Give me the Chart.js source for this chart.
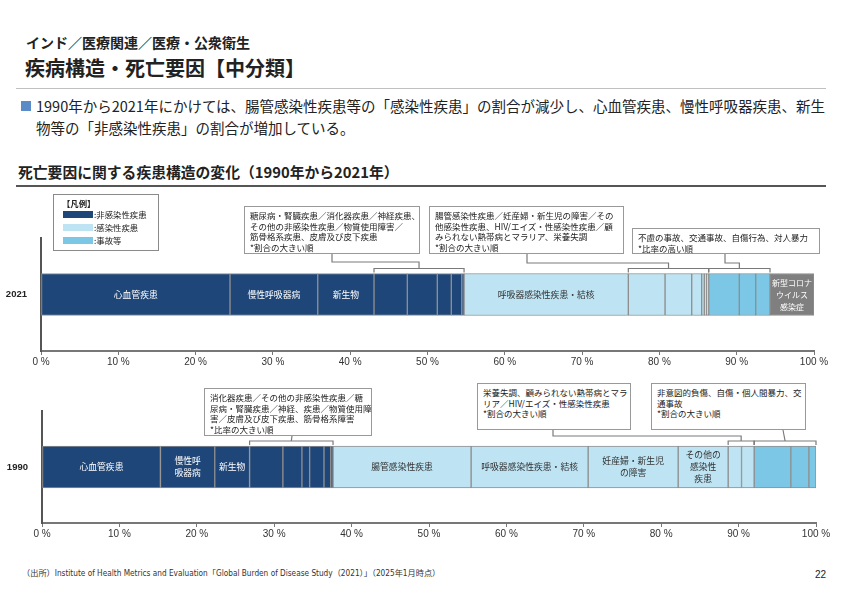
<!DOCTYPE html>
<html lang="ja">
<head>
<meta charset="utf-8">
<script src="https://cdn.jsdelivr.net/npm/chart.js@4/dist/chart.umd.min.js"></script>
<style>
  body { margin: 0; width: 842px; height: 595px; background: #fff; position: relative; overflow: hidden;
         font-family: "Noto Sans CJK JP", "Noto Sans", sans-serif; color: #222; }
  .abs { position: absolute; }
  .hdr { left: 26px; top: 32px; font-size: 14px; font-weight: bold; }
  .ttl { left: 25px; top: 53px; font-size: 20px; font-weight: bold; }
  .rule1 { left: 16px; top: 88px; width: 810px; height: 1px; background: #c0c0c0; }
  .bul { left: 21px; top: 101px; width: 10px; height: 10px; background: #5b8cc8; }
  .lead { left: 36px; top: 95px; font-size: 14.5px; line-height: 22px; white-space: nowrap; }
  .sub { left: 18px; top: 161px; font-size: 14.8px; font-weight: bold; }
  .rule2 { left: 16px; top: 185px; width: 810px; height: 1.5px; background: #555; }
  .wrap { left: 0; width: 842px; }
  .note { background: #fff; border: 1px solid #999; font-size: 8.5px; line-height: 10.6px;
          padding: 3px 5px; box-sizing: border-box; white-space: nowrap; color: #222; }
  .legend { left: 53px; top: 194px; width: 106px; height: 57px; border: 1px solid #8a8a8a; box-sizing: border-box;
            background: #fff; font-size: 8.4px; }
  .legend .t { position: absolute; left: 8px; top: 2px; font-weight: bold; }
  .legend .sw { position: absolute; left: 9px; width: 30px; height: 7px; }
  .legend .lb { position: absolute; left: 40px; }
  .src { left: 22px; top: 566px; font-size: 8.2px; font-family: "Liberation Sans Narrow", "DejaVu Sans Condensed", "Noto Sans CJK JP", sans-serif; color: #333; }
  .pg { left: 808px; top: 569px; width: 18px; text-align: right; font-size: 10px; font-family: "Liberation Sans", sans-serif; }
</style>
</head>
<body>
<div class="abs hdr">インド／医療関連／医療・公衆衛生</div>
<div class="abs ttl">疾病構造・死亡要因【中分類】</div>
<div class="abs rule1"></div>
<div class="abs bul"></div>
<div class="abs lead">1990年から2021年にかけては、腸管感染性疾患等の「感染性疾患」の割合が減少し、心血管疾患、慢性呼吸器疾患、新生<br>物等の「非感染性疾患」の割合が増加している。</div>
<div class="abs sub">死亡要因に関する疾患構造の変化（1990年から2021年）</div>
<div class="abs rule2"></div>

<div class="abs wrap" style="top:190px;height:190px;"><canvas id="chart2021"></canvas></div>
<div class="abs wrap" style="top:380px;height:165px;"><canvas id="chart1990"></canvas></div>

<div class="abs legend">
  <div class="t">【凡例】</div>
  <div class="sw" style="top:16px;background:#1f4678;"></div><div class="lb" style="top:13px;">:非感染性疾患</div>
  <div class="sw" style="top:29px;background:#bee3f2;"></div><div class="lb" style="top:26px;">:感染性疾患</div>
  <div class="sw" style="top:42px;background:#7bc7e5;"></div><div class="lb" style="top:39px;">:事故等</div>
</div>

<div id="notes"></div>

<div class="abs src">（出所）Institute of Health Metrics and Evaluation「Global Burden of Disease Study（2021）」（2025年1月時点）</div>
<div class="abs pg">22</div>

<script>
// ---- データ（割合 %）----
const NCD = '#1f4678', INF = '#bee3f2', ACC = '#7bc7e5', COV = '#7f7f7f';

// 2021
const ncd2021 = [24.45, 11.35, 7.28, 4.31, 3.88, 1.81, 1.35, 0.30];
const ncd2021Names = ['心血管疾患', '慢性呼吸器病', '新生物', '', '', '', '', ''];
const inf2021 = [21.25, 4.75, 3.45, 1.29, 0.34, 0.31, 0.26];
const inf2021Names = ['呼吸器感染性疾患・結核', '', '', '', '', '', ''];
const acc2021 = [3.96, 2.12, 1.85];
const covid2021 = [5.69];
const covid2021Names = [['新型コロナ', 'ウイルス', '感染症']];

// 1990
const ncd1990 = [15.30, 7.02, 4.50, 4.30, 2.46, 1.00, 1.85, 0.87, 0.30];
const ncd1990Names = ['心血管疾患', ['慢性呼', '吸器病'], '新生物', '', '', '', '', '', ''];
const inf1990 = [17.84, 15.12, 11.63, 6.46, 1.73, 1.63];
const inf1990Names = ['腸管感染性疾患', '呼吸器感染性疾患・結核', ['妊産婦・新生児', 'の障害'], ['その他の', '感染性', '疾患'], '', ''];
const acc1990 = [4.74, 2.33, 0.92];

const xTicks = [0, 10, 20, 30, 40, 50, 60, 70, 80, 90, 100];

// 注記ボックス（ページ座標）と括弧の対象（データの通し番号範囲）
const notes2021 = [
  { x: 244, y: 206, w: 176, h: 48, ax: 332, elbow: 262, from: 3, to: 7,
    lines: ['糖尿病・腎臓疾患／消化器疾患／神経疾患、', 'その他の非感染性疾患／物質使用障害／', '筋骨格系疾患、皮膚及び皮下疾患', '*割合の大きい順'] },
  { x: 429, y: 206, w: 195, h: 48, ax: 527, elbow: 263, from: 9, to: 14,
    lines: ['腸管感染性疾患／妊産婦・新生児の障害／その', '他感染性疾患、HIV/エイズ・性感染性疾患／顧', 'みられない熱帯病とマラリア、栄養失調', '*割合の大きい順'] },
  { x: 632, y: 228, w: 188, h: 26, ax: 725, elbow: 263, from: 15, to: 17,
    lines: ['不慮の事故、交通事故、自傷行為、対人暴力', '*比率の高い順'] }
];
const notes1990 = [
  { x: 204, y: 388, w: 168, h: 48, ax: 292, elbow: null, from: 3, to: 8,
    lines: ['消化器疾患／その他の非感染性疾患／糖', '尿病・腎臓疾患／神経、疾患／物質使用障', '害／皮膚及び皮下疾患、筋骨格系障害', '*比率の大きい順'] },
  { x: 477, y: 383, w: 154, h: 47, ax: 553, elbow: 436, from: 13, to: 14,
    lines: ['栄養失調、顧みられない熱帯病とマラ', 'リア／HIV/エイズ・性感染性疾患', '*割合の大きい順'] },
  { x: 651, y: 383, w: 155, h: 47, ax: 783, elbow: null, from: 15, to: 17,
    lines: ['非意図的負傷、自傷・個人間暴力、交', '通事故', '*割合の大きい順'] }
];

function makeSets(groups) {
  const sets = [];
  groups.forEach(g => {
    g.values.forEach((v, i) => {
      sets.push({
        data: [v], backgroundColor: g.color, borderColor: '#8f8f8f', borderWidth: 1, borderSkipped: false,
        barThickness: 42, segLabel: g.names ? g.names[i] : '', textColor: g.text
      });
    });
  });
  return sets;
}

// 棒の中のラベルと、注記への括弧・引き出し線
const overlay = {
  id: 'overlay',
  afterDatasetsDraw(chart, args, opts) {
    const ctx = chart.ctx;
    ctx.save();
    ctx.textAlign = 'center';
    ctx.textBaseline = 'middle';
    chart.data.datasets.forEach((ds, i) => {
      if (!ds.segLabel) return;
      const el = chart.getDatasetMeta(i).data[0];
      const lines = Array.isArray(ds.segLabel) ? ds.segLabel : [ds.segLabel];
      const cx = (el.x + el.base) / 2;
      const room = Math.abs(el.x - el.base) - 4;
      let size = 8.8;
      ctx.font = size + 'px "Noto Sans CJK JP"';
      const widest = Math.max(...lines.map(t => ctx.measureText(t).width));
      if (widest > room) {
        size = Math.max(7, size * room / widest);
        ctx.font = size + 'px "Noto Sans CJK JP"';
      }
      ctx.fillStyle = ds.textColor;
      lines.forEach((t, k) => ctx.fillText(t, cx, el.y + (k - (lines.length - 1) / 2) * 12));
    });

    const top = chart.canvas.getBoundingClientRect().top;
    ctx.strokeStyle = '#7a7a7a';
    ctx.lineWidth = 1.2;
    opts.notes.forEach(n => {
      const a = chart.getDatasetMeta(n.from).data[0];
      const b = chart.getDatasetMeta(n.to).data[0];
      const x0 = a.base, x1 = b.x;
      const barTop = a.y - 21;
      const by = barTop - 5;
      ctx.beginPath();
      ctx.moveTo(x0, barTop - 1); ctx.lineTo(x0, by); ctx.lineTo(x1, by); ctx.lineTo(x1, barTop - 1);
      ctx.stroke();
      const mid = (x0 + x1) / 2;
      const boxBottom = n.y + n.h - top;
      ctx.beginPath();
      ctx.moveTo(n.ax, boxBottom);
      if (n.elbow !== null) {
        ctx.lineTo(n.ax, n.elbow - top);
        ctx.lineTo(mid, n.elbow - top);
      }
      ctx.lineTo(mid, by);
      ctx.stroke();
    });
    ctx.restore();
  }
};

function drawChart(id, label, groups, notes, padding, yWidth) {
  new Chart(document.getElementById(id), {
    type: 'bar',
    data: { labels: [label], datasets: makeSets(groups) },
    options: {
      indexAxis: 'y', responsive: true, maintainAspectRatio: false, animation: false,
      layout: { padding: padding },
      scales: {
        x: {
          stacked: true, min: 0, max: 100,
          afterBuildTicks: s => { s.ticks = xTicks.map(v => ({ value: v })); },
          afterFit: s => { s.height = 20; },
          grid: { drawOnChartArea: false, tickLength: 4, color: '#777' },
          border: { color: '#777', width: 2 },
          ticks: { callback: v => v + ' %', color: '#333', font: { size: 10, family: 'Liberation Sans' }, padding: 1, maxRotation: 0 }
        },
        y: {
          stacked: true,
          afterFit: s => { s.width = yWidth; },
          grid: { display: false },
          border: { color: '#555', width: 2 },
          ticks: { color: '#222', font: { size: 9.5, weight: 'bold', family: 'Liberation Sans' }, padding: 6 }
        }
      },
      plugins: { legend: { display: false }, tooltip: { enabled: false }, overlay: { notes: notes } }
    },
    plugins: [overlay]
  });
}

// 注記ボックス（HTML）
const holder = document.getElementById('notes');
notes2021.concat(notes1990).forEach(n => {
  const d = document.createElement('div');
  d.className = 'abs note';
  d.style.left = n.x + 'px'; d.style.top = n.y + 'px';
  d.style.width = n.w + 'px'; d.style.height = n.h + 'px';
  d.innerHTML = n.lines.join('<br>');
  holder.appendChild(d);
});

drawChart('chart2021', '2021', [
  { values: ncd2021, names: ncd2021Names, color: NCD, text: '#fff' },
  { values: inf2021, names: inf2021Names, color: INF, text: '#333' },
  { values: acc2021, color: ACC, text: '#333' },
  { values: covid2021, names: covid2021Names, color: COV, text: '#fff' }
], notes2021, { left: 0, right: 28, top: 48, bottom: 9 }, 41);

drawChart('chart1990', '1990', [
  { values: ncd1990, names: ncd1990Names, color: NCD, text: '#fff' },
  { values: inf1990, names: inf1990Names, color: INF, text: '#333' },
  { values: acc1990, color: ACC, text: '#333' }
], notes1990, { left: 0, right: 26, top: 31, bottom: 2 }, 42);
</script>
</body>
</html>
